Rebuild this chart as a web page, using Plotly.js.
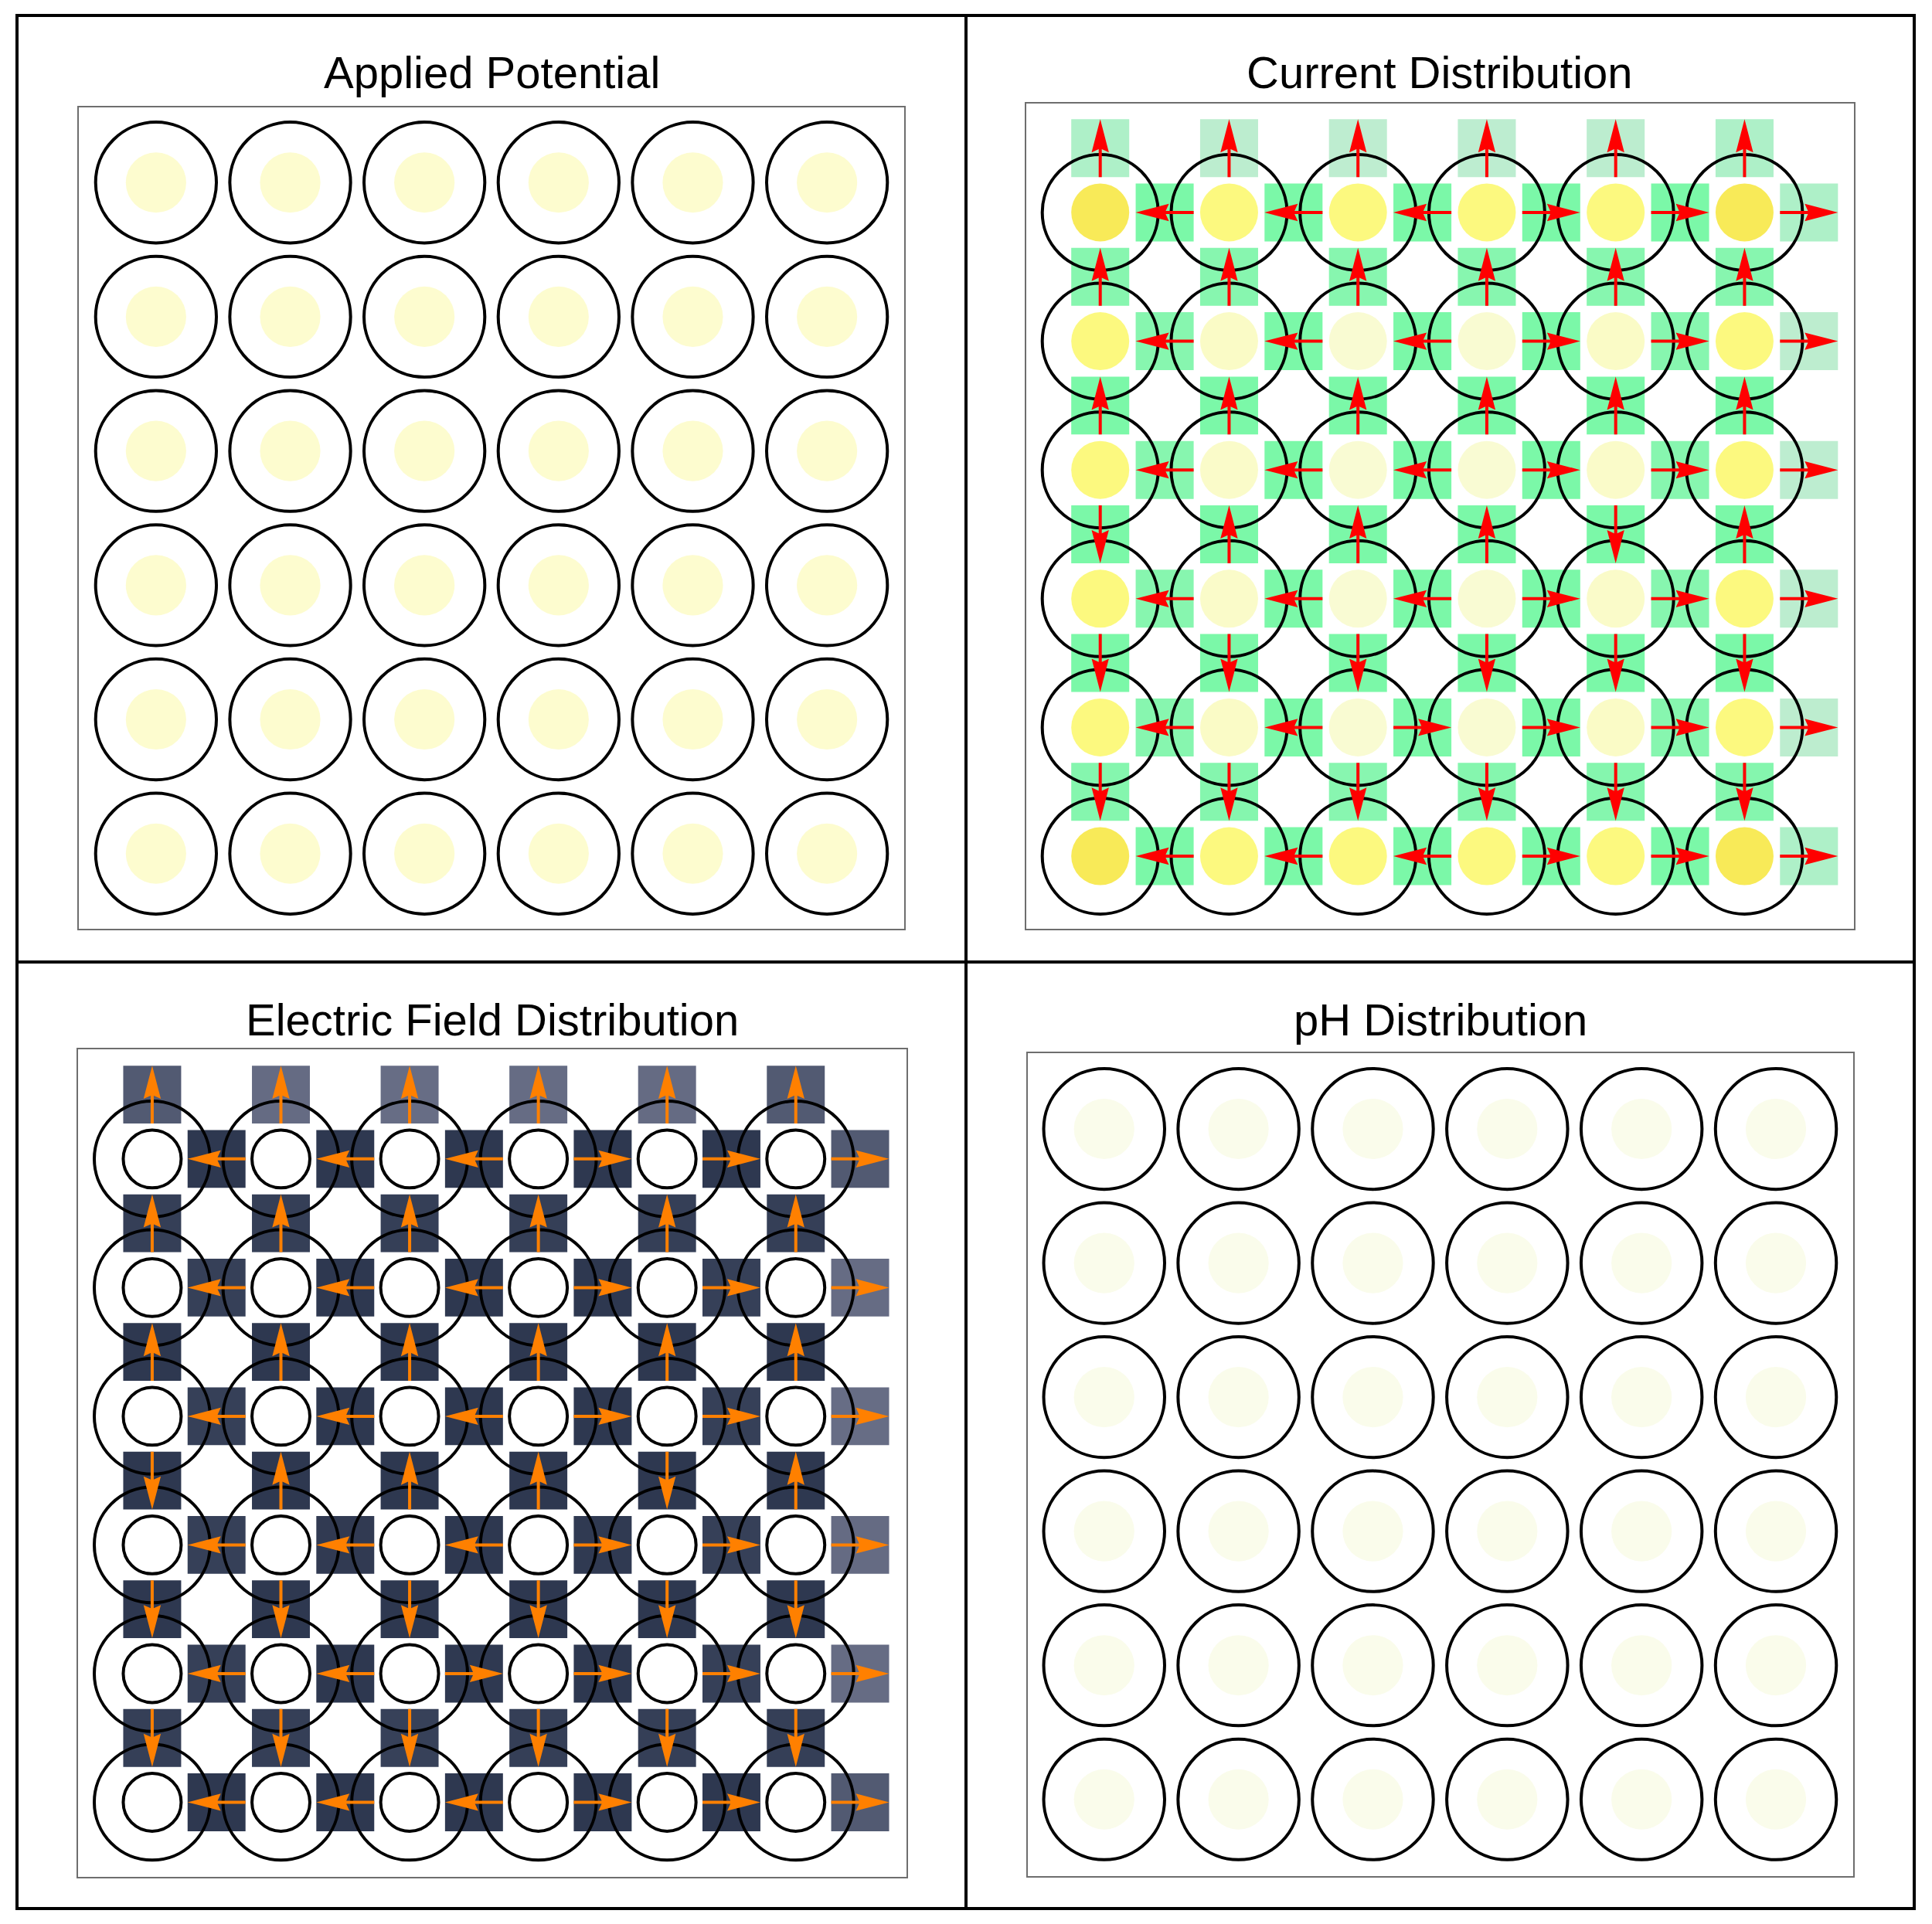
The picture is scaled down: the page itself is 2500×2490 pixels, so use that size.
<!DOCTYPE html>
<html>
<head>
<meta charset="utf-8">
<script src="https://cdn.plot.ly/plotly-3.0.1.min.js"></script>
<style>html,body{margin:0;padding:0;background:#fff}</style>
</head>
<body>
<div id="chart" style="width:2500px;height:2490px"></div>
<script>
// ---------------- data ----------------
const wellCols = [0, 1, 2, 3, 4, 5];      // column positions of the wells
const wellRows = [5, 4, 3, 2, 1, 0];      // row positions, listed top to bottom

const panelTitles = ["Applied Potential", "Current Distribution", "Electric Field Distribution", "pH Distribution"];

// Applied potential at each well (V), rows top -> bottom
const appliedPotential = [
  [1.00, 1.00, 1.00, 1.00, 1.00, 1.00],
  [1.00, 1.00, 1.00, 1.00, 1.00, 1.00],
  [1.00, 1.00, 1.00, 1.00, 1.00, 1.00],
  [1.00, 1.00, 1.00, 1.00, 1.00, 1.00],
  [1.00, 1.00, 1.00, 1.00, 1.00, 1.00],
  [1.00, 1.00, 1.00, 1.00, 1.00, 1.00]
];

// Current density magnitude at each well (normalised), rows top -> bottom
const wellCurrent = [
  [1.00, 0.55, 0.55, 0.55, 0.55, 1.00],
  [0.55, 0.12, 0.05, 0.05, 0.12, 0.55],
  [0.55, 0.10, 0.04, 0.04, 0.10, 0.55],
  [0.55, 0.10, 0.04, 0.04, 0.10, 0.55],
  [0.55, 0.12, 0.05, 0.05, 0.12, 0.55],
  [1.00, 0.55, 0.55, 0.55, 0.55, 1.00]
];

// pH at each well, rows top -> bottom
const wellPH = [
  [7.00, 7.00, 7.00, 7.00, 7.00, 7.00],
  [7.00, 7.00, 7.00, 7.00, 7.00, 7.00],
  [7.00, 7.00, 7.00, 7.00, 7.00, 7.00],
  [7.00, 7.00, 7.00, 7.00, 7.00, 7.00],
  [7.00, 7.00, 7.00, 7.00, 7.00, 7.00],
  [7.00, 7.00, 7.00, 7.00, 7.00, 7.00]
];

// Current through the right face of each well (+ = rightwards), normalised
const currentX = [
  [-1.00, -1.00, -1.00, 1.00, 1.00, 0.30],
  [-0.84, -1.00, -1.00, 1.00, 0.84, 0.02],
  [-0.84, -1.00, -1.00, 1.00, 0.84, 0.01],
  [-0.84, -1.00, -1.00, 1.00, 0.84, 0.03],
  [-0.84, -1.00,  0.98, 1.00, 0.84, 0.02],
  [-1.00, -1.00, -1.00, 1.00, 1.00, 0.30]
];
// Current through the top face of each well (+ = upwards), normalised
const currentY = [
  [ 0.30,  0.03,  0.00,  0.01,  0.03,  0.30],
  [ 0.84,  0.84,  0.84,  0.84,  0.84,  0.84],
  [ 1.00,  1.00,  1.00,  1.00,  1.00,  1.00],
  [-1.00,  1.00,  1.00,  1.00, -1.00,  1.00],
  [-1.00, -1.00, -1.00, -1.00, -1.00, -1.00],
  [-0.86, -0.86, -0.82, -0.86, -0.86, -0.86]
];
// Electric field through the right face of each well (+ = rightwards), normalised
const fieldX = [
  [-1.00, -1.00, -1.00, 1.00, 1.00, 0.30],
  [-0.84, -1.00, -1.00, 1.00, 0.84, 0.02],
  [-0.84, -1.00, -1.00, 1.00, 0.84, 0.00],
  [-0.84, -0.95, -1.00, 0.96, 0.84, 0.03],
  [-0.84, -1.00,  0.98, 1.00, 0.84, 0.02],
  [-1.00, -1.00, -1.00, 1.00, 1.00, 0.30]
];
// Electric field through the top face of each well (+ = upwards), normalised
const fieldY = [
  [ 0.30,  0.03,  0.00,  0.01,  0.03,  0.30],
  [ 0.86,  0.86,  0.86,  0.86,  0.86,  0.86],
  [ 1.00,  1.00,  1.00,  1.00,  1.00,  1.00],
  [-1.00,  1.00,  1.00,  1.00, -1.00,  1.00],
  [-1.00, -1.00, -1.00, -1.00, -1.00, -1.00],
  [-0.86, -0.86, -0.82, -0.86, -0.86, -0.86]
];

// ---------------- styles ----------------
const potentialScale = [[0, '#FEFDD4'], [1, '#FCFBCA']];
const currentCellScale = [[0, '#F9FBDA'], [0.55, '#FCF97F'], [1, '#F8EA58']];
const phScale = [[0, '#FCFDF0'], [1, '#F8FAE6']];
const currentRectScale = [[0, '#BEEDD0'], [0.3, '#AEF0C8'], [1, '#7BF8A8']];
const fieldRectScale = [[0, '#676D85'], [0.3, '#525A72'], [1, '#2E3850']];

const R_OUT = 0.45, R_IN = 0.225, HALF = 0.225, STEP = 0.5;
const LW = 4;

function hexToRgb(h) { const n = parseInt(h.slice(1), 16); return [(n >> 16) & 255, (n >> 8) & 255, n & 255]; }
function scaleColor(scale, t) {
  t = Math.max(0, Math.min(1, t));
  for (let i = 1; i < scale.length; i++) {
    if (t <= scale[i][0]) {
      const a = hexToRgb(scale[i - 1][1]), b = hexToRgb(scale[i][1]);
      const f = (t - scale[i - 1][0]) / ((scale[i][0] - scale[i - 1][0]) || 1);
      return 'rgb(' + a.map((v, k) => Math.round(v + (b[k] - v) * f)).join(',') + ')';
    }
  }
  return scale[scale.length - 1][1];
}

function arrowShape(xr, yr, cx, cy, dx, dy, color) {
  const HL = 0.258, HW = 0.067, SW = 0.012, N = 0.025;
  const px = -dy, py = dx;
  const x0 = cx - dx * HALF, y0 = cy - dy * HALF;
  const tx = cx + dx * HALF, ty = cy + dy * HALF;
  const bx = tx - dx * HL, by = ty - dy * HL;
  const nx = tx - dx * (HL - N), ny = ty - dy * (HL - N);
  const pts = [
    [x0 + px * SW, y0 + py * SW], [nx + px * SW, ny + py * SW], [bx + px * HW, by + py * HW],
    [tx, ty], [bx - px * HW, by - py * HW], [nx - px * SW, ny - py * SW], [x0 - px * SW, y0 - py * SW]
  ];
  const path = 'M' + pts.map(p => p[0].toFixed(4) + ',' + p[1].toFixed(4)).join('L') + 'Z';
  return {type: 'path', xref: xr, yref: yr, path: path, fillcolor: color, line: {width: 0}};
}

const panels = [
  {ax: '', title: panelTitles[0], cells: appliedPotential, cmin: 0.9, cmax: 1.1, scale: potentialScale,
   dx: [0.0408, 0.4680], dy: [0.51727, 0.94418], xr: [-0.575, 5.575], yr: [-0.56, 5.56], tx: 0.2544, ty: 0.96265},
  {ax: '2', title: panelTitles[1], cells: wellCurrent, cmin: 0, cmax: 1, scale: currentCellScale,
   flux: [currentX, currentY], rectScale: currentRectScale, arrow: '#FF0000',
   dx: [0.5312, 0.9596], dy: [0.51727, 0.94618], xr: [-0.574, 5.849], yr: [-0.564, 5.846], tx: 0.7454, ty: 0.96265},
  {ax: '3', title: panelTitles[2], cells: null, outlineInner: true,
   flux: [fieldX, fieldY], rectScale: fieldRectScale, arrow: '#FF8000',
   dx: [0.0404, 0.4692], dy: [0.024498, 0.454618], xr: [-0.576, 5.860], yr: [-0.58, 5.852], tx: 0.2548, ty: 0.47028},
  {ax: '4', title: panelTitles[3], cells: wellPH, cmin: 6.5, cmax: 7.5, scale: phScale,
   dx: [0.532, 0.9592], dy: [0.0249, 0.45261], xr: [-0.568, 5.575], yr: [-0.572, 5.565], tx: 0.7456, ty: 0.47028}
];

const shapes = [];
const traces = [];
const annotations = [];
const layout = {
  width: 2500, height: 2490, margin: {l: 0, r: 0, t: 0, b: 0},
  paper_bgcolor: '#ffffff', plot_bgcolor: '#ffffff', showlegend: false,
  font: {family: '"Liberation Sans", Arial, sans-serif', color: '#000'}
};

panels.forEach(p => {
  const xr = 'x' + p.ax, yr = 'y' + p.ax;
  const axBase = {showgrid: false, zeroline: false, showticklabels: false, ticks: '',
    showline: true, mirror: true, linecolor: '#6e6e6e', linewidth: 2, fixedrange: true};
  layout['xaxis' + p.ax] = Object.assign({}, axBase, {domain: p.dx, range: p.xr, anchor: yr});
  layout['yaxis' + p.ax] = Object.assign({}, axBase, {domain: p.dy, range: p.yr, anchor: xr});

  const arrows = [];
  if (p.flux) {
    const [fx, fy] = p.flux;
    wellRows.forEach((wy, r) => wellCols.forEach((wx, c) => {
      const hx = wx + STEP, hy = wy;
      shapes.push({type: 'rect', xref: xr, yref: yr, x0: hx - HALF, x1: hx + HALF, y0: hy - HALF, y1: hy + HALF,
        fillcolor: scaleColor(p.rectScale, Math.abs(fx[r][c])), line: {width: 0}});
      arrows.push(arrowShape(xr, yr, hx, hy, Math.sign(fx[r][c]) || 1, 0, p.arrow));
      const vx = wx, vy = wy + STEP;
      shapes.push({type: 'rect', xref: xr, yref: yr, x0: vx - HALF, x1: vx + HALF, y0: vy - HALF, y1: vy + HALF,
        fillcolor: scaleColor(p.rectScale, Math.abs(fy[r][c])), line: {width: 0}});
      arrows.push(arrowShape(xr, yr, vx, vy, 0, Math.sign(fy[r][c]) || 1, p.arrow));
    }));
  }
  const hx = [], hy = [], ht = [];
  wellRows.forEach((wy, r) => wellCols.forEach((wx, c) => {
    shapes.push({type: 'circle', xref: xr, yref: yr, x0: wx - R_OUT, x1: wx + R_OUT, y0: wy - R_OUT, y1: wy + R_OUT,
      line: {color: '#000000', width: LW}, fillcolor: 'rgba(0,0,0,0)'});
    if (p.cells) {
      const v = p.cells[r][c];
      shapes.push({type: 'circle', xref: xr, yref: yr, x0: wx - R_IN, x1: wx + R_IN, y0: wy - R_IN, y1: wy + R_IN,
        line: {width: 0}, fillcolor: scaleColor(p.scale, (v - p.cmin) / (p.cmax - p.cmin))});
      ht.push(String(v));
    } else {
      shapes.push({type: 'circle', xref: xr, yref: yr, x0: wx - R_IN, x1: wx + R_IN, y0: wy - R_IN, y1: wy + R_IN,
        line: {color: '#000000', width: LW}, fillcolor: '#ffffff'});
      ht.push('');
    }
    hx.push(wx); hy.push(wy);
  }));
  arrows.forEach(a => shapes.push(a));

  traces.push({type: 'scatter', mode: 'markers', x: hx, y: hy, text: ht, xaxis: xr, yaxis: yr,
    marker: {size: 10, opacity: 0}, hoverinfo: 'text', showlegend: false});

  annotations.push({xref: 'paper', yref: 'paper', x: p.tx, y: p.ty, xanchor: 'center', yanchor: 'middle',
    text: p.title, showarrow: false, font: {size: 58, color: '#000000', family: '"Liberation Sans", Arial, sans-serif'}});
});

// figure frame
const W = 2500, H = 2490;
const fxp = v => v / W, fyp = v => (H - v) / H;
shapes.push({type: 'rect', xref: 'paper', yref: 'paper', x0: fxp(22), x1: fxp(2477), y0: fyp(2470), y1: fyp(20),
  line: {color: '#000000', width: 4}, fillcolor: 'rgba(0,0,0,0)'});
shapes.push({type: 'line', xref: 'paper', yref: 'paper', x0: fxp(1250), x1: fxp(1250), y0: fyp(2470), y1: fyp(20),
  line: {color: '#000000', width: 4}});
shapes.push({type: 'line', xref: 'paper', yref: 'paper', x0: fxp(22), x1: fxp(2477), y0: fyp(1245), y1: fyp(1245),
  line: {color: '#000000', width: 4}});

layout.shapes = shapes;
layout.annotations = annotations;

Plotly.newPlot('chart', traces, layout, {displayModeBar: false, responsive: false});
</script>
</body>
</html>
